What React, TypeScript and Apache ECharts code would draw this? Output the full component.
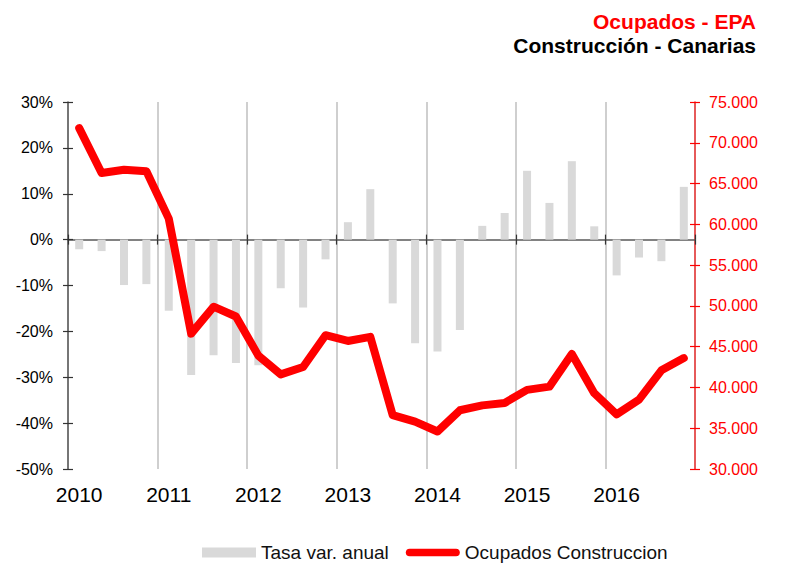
import React, { useEffect, useRef } from "react";
import * as echarts from "echarts";

const quarters = [
  "2010T1", "2010T2", "2010T3", "2010T4",
  "2011T1", "2011T2", "2011T3", "2011T4",
  "2012T1", "2012T2", "2012T3", "2012T4",
  "2013T1", "2013T2", "2013T3", "2013T4",
  "2014T1", "2014T2", "2014T3", "2014T4",
  "2015T1", "2015T2", "2015T3", "2015T4",
  "2016T1", "2016T2", "2016T3", "2016T4",
];

const tasaVarAnual = [
  -2.1, -2.5, -9.9, -9.7,
  -15.5, -29.5, -25.2, -26.9,
  -27.4, -10.6, -14.8, -4.3,
  3.8, 11.0, -13.9, -22.6,
  -24.4, -19.7, 3.0, 5.8,
  15.0, 8.0, 17.1, 2.9,
  -7.8, -3.9, -4.7, 11.5,
];

const ocupadosConstruccion = [
  71800, 66300, 66700, 66500,
  60700, 46600, 49900, 48700,
  43900, 41600, 42500, 46400,
  45700, 46200, 36600, 35800,
  34600, 37200, 37800, 38100,
  39700, 40100, 44100, 39300,
  36700, 38500, 42100, 43600,
];

const leftTicks = { min: -50, max: 30, interval: 10 };
const rightTicks = { min: 30000, max: 75000, interval: 5000 };

const FONT = "'Liberation Sans', Arial, Helvetica, sans-serif";

const fmtThousands = (v: number) =>
  String(Math.round(v)).replace(/\B(?=(\d{3})+(?!\d))/g, ".");

export default function App() {
  const ref = useRef<HTMLDivElement>(null);

  useEffect(() => {
    if (!ref.current) return;
    const chart = echarts.init(ref.current, null, { renderer: "svg" });

    const baseCat = {
      type: "category",
      data: quarters,
      boundaryGap: true,
    };

    const option: any = {
      animation: false,
      backgroundColor: "#ffffff",
      textStyle: { fontFamily: FONT },
      title: [
        {
          text: "Ocupados - EPA",
          right: 47,
          top: 11,
          padding: 0,
          textStyle: { color: "#ff0000", fontSize: 21, fontWeight: "bold", lineHeight: 21, fontFamily: FONT },
        },
        {
          text: "Construcción - Canarias",
          right: 47,
          top: 35,
          padding: 0,
          textStyle: { color: "#000000", fontSize: 21, fontWeight: "bold", lineHeight: 21, fontFamily: FONT },
        },
      ],
      legend: {
        left: 202,
        top: 543,
        padding: 0,
        itemWidth: 54,
        itemHeight: 10,
        itemGap: 17,
        textStyle: { fontSize: 19, color: "#111111", fontFamily: FONT },
        data: [
          { name: "Tasa var. anual", icon: "rect" },
          {
            name: "Ocupados Construccion",
            icon: "path://M4,0H53A4,4 0 0 1 53,8H4A4,4 0 0 1 4,0Z",
          },
        ],
      },
      grid: { left: 68, right: 108, top: 102, bottom: 97 },
      xAxis: [
        {
          ...baseCat,
          position: "bottom",
          axisLine: { show: false, onZero: false },
          axisTick: { show: false },
          axisLabel: {
            interval: 3,
            formatter: (v: string) => v.slice(0, 4),
            fontSize: 21,
            color: "#000000",
            margin: 15,
            fontFamily: FONT,
          },
          splitLine: { show: true, interval: 3, lineStyle: { color: "#bfbfbf", width: 1.5 } },
        },
        {
          ...baseCat,
          position: "bottom",
          axisLine: { show: true, onZero: true, onZeroAxisIndex: 0, lineStyle: { color: "#595959", width: 1.5 } },
          axisTick: { show: true, interval: 3, length: 5, inside: false, lineStyle: { color: "#333333", width: 1.2 } },
          axisLabel: { show: false },
          splitLine: { show: false },
        },
        {
          ...baseCat,
          position: "bottom",
          axisLine: { show: false, onZero: true, onZeroAxisIndex: 0 },
          axisTick: { show: true, interval: 3, length: 5, inside: true, lineStyle: { color: "#333333", width: 1.2 } },
          axisLabel: { show: false },
          splitLine: { show: false },
        },
      ],
      yAxis: [
        {
          type: "value",
          position: "left",
          ...leftTicks,
          axisLine: { show: true, lineStyle: { color: "#595959", width: 1.5 } },
          axisTick: { show: true, length: 5, inside: false, lineStyle: { color: "#333333", width: 1.2 } },
          axisLabel: { formatter: "{value}%", fontSize: 16, color: "#000000", margin: 15, fontFamily: FONT },
          splitLine: { show: false },
        },
        {
          type: "value",
          position: "right",
          ...rightTicks,
          axisLine: { show: true, lineStyle: { color: "#ee3333", width: 1.5 } },
          axisTick: { show: true, length: 5, inside: false, lineStyle: { color: "#ff0000", width: 1.2 } },
          axisLabel: { formatter: fmtThousands, fontSize: 16, color: "#ff0000", margin: 14, fontFamily: FONT },
          splitLine: { show: false },
        },
        {
          type: "value",
          position: "left",
          ...leftTicks,
          axisLine: { show: false },
          axisTick: { show: true, length: 5, inside: true, lineStyle: { color: "#333333", width: 1.2 } },
          axisLabel: { show: false },
          splitLine: { show: false },
        },
        {
          type: "value",
          position: "right",
          ...rightTicks,
          axisLine: { show: false },
          axisTick: { show: true, length: 5, inside: true, lineStyle: { color: "#ff0000", width: 1.2 } },
          axisLabel: { show: false },
          splitLine: { show: false },
        },
      ],
      series: [
        {
          type: "bar",
          name: "Tasa var. anual",
          data: tasaVarAnual,
          xAxisIndex: 0,
          yAxisIndex: 0,
          barWidth: 8,
          itemStyle: { color: "#d9d9d9" },
          z: 2,
        },
        {
          type: "line",
          name: "Ocupados Construccion",
          data: ocupadosConstruccion,
          xAxisIndex: 0,
          yAxisIndex: 1,
          showSymbol: false,
          symbol: "none",
          lineStyle: { color: "#ff0000", width: 8, cap: "round", join: "round" },
          itemStyle: { color: "#ff0000" },
          z: 5,
        },
      ],
    };

    chart.setOption(option);
    return () => chart.dispose();
  }, []);

  return (
    <div
      ref={ref}
      style={{ position: "fixed", left: 0, top: 0, width: 803, height: 566 }}
    />
  );
}
